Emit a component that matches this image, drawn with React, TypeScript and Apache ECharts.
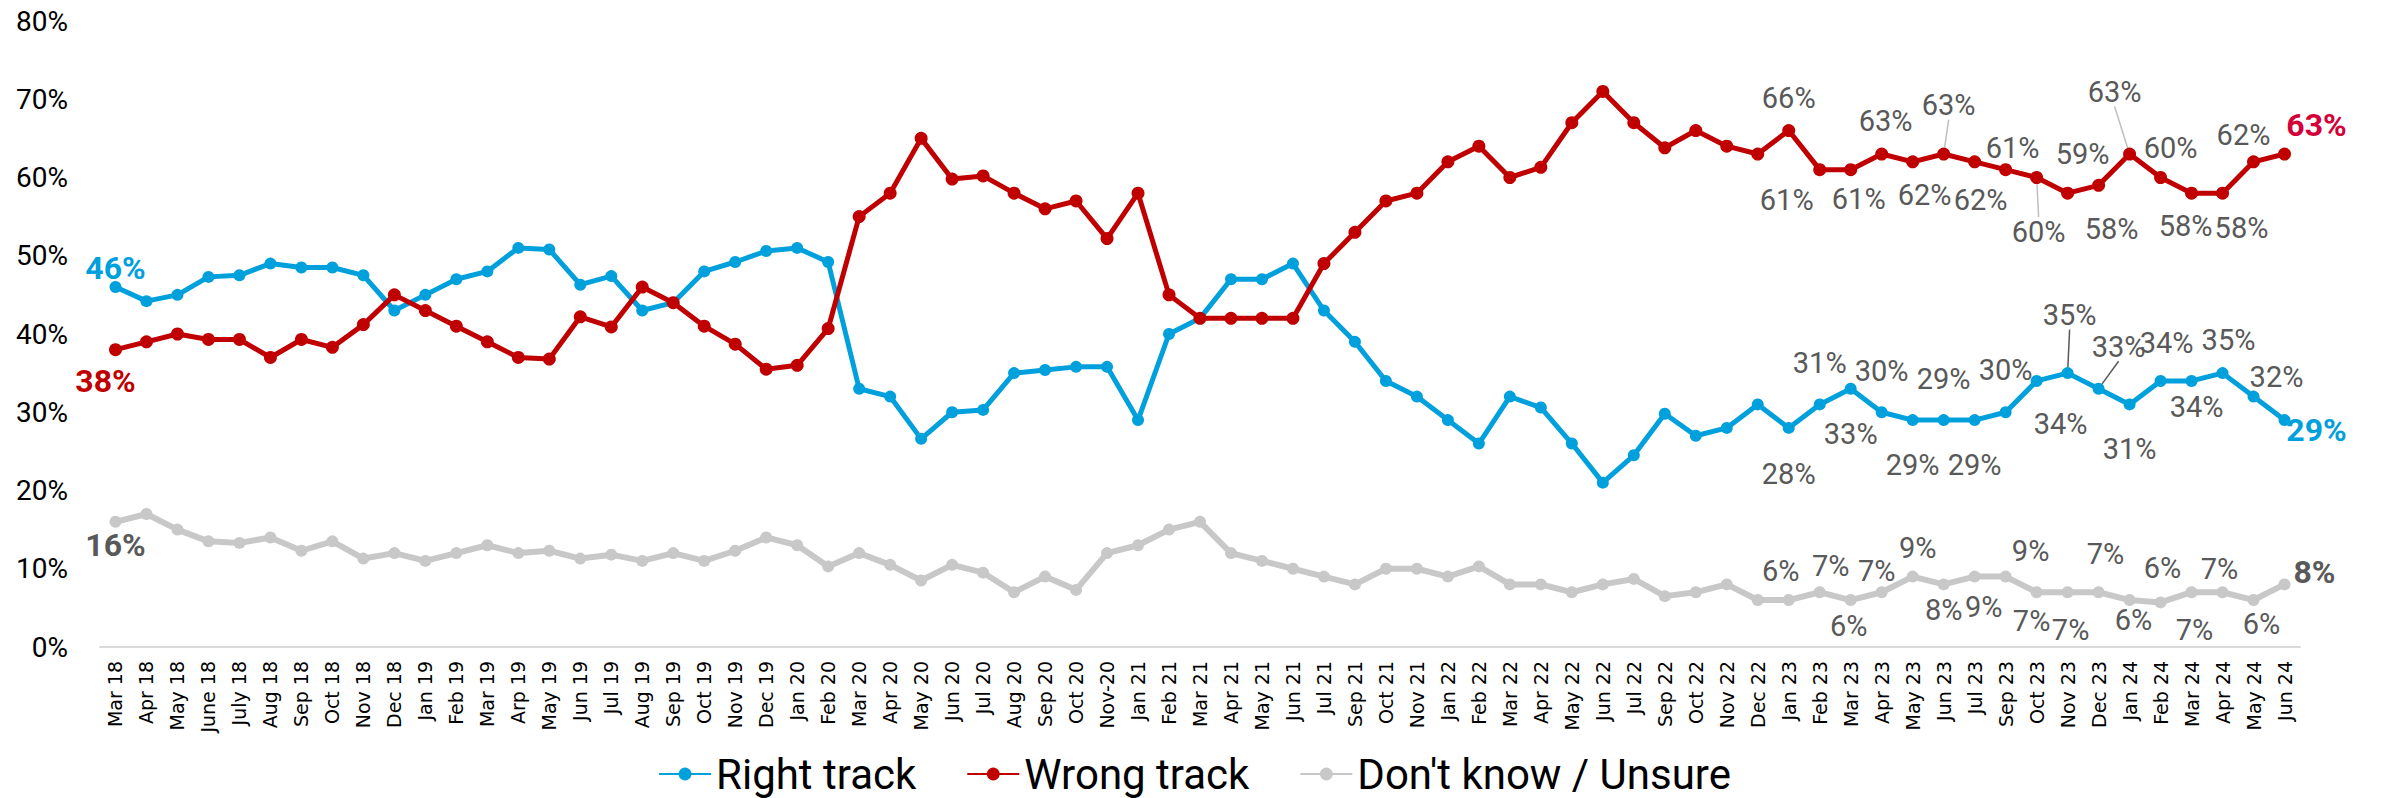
import React, { useEffect, useRef } from "react";
import * as echarts from "echarts";

const categories = [
  "Mar 18", "Apr 18", "May 18", "June 18", "July 18", "Aug 18", "Sep 18", "Oct 18", "Nov 18", "Dec 18",
  "Jan 19", "Feb 19", "Mar 19", "Arp 19", "May 19", "Jun 19", "Jul 19", "Aug 19", "Sep 19", "Oct 19",
  "Nov 19", "Dec 19", "Jan 20", "Feb 20", "Mar 20", "Apr 20", "May 20", "Jun 20", "Jul 20", "Aug 20",
  "Sep 20", "Oct 20", "Nov-20", "Jan 21", "Feb 21", "Mar 21", "Apr 21", "May 21", "Jun 21", "Jul 21",
  "Sep 21", "Oct 21", "Nov 21", "Jan 22", "Feb 22", "Mar 22", "Apr 22", "May 22", "Jun 22", "Jul 22",
  "Sep 22", "Oct 22", "Nov 22", "Dec 22", "Jan 23", "Feb 23", "Mar 23", "Apr 23", "May 23", "Jun 23",
  "Jul 23", "Sep 23", "Oct 23", "Nov 23", "Dec 23", "Jan 24", "Feb 24", "Mar 24", "Apr 24", "May 24",
  "Jun 24",
];

const rightTrack = [
  46, 44.2, 45, 47.3, 47.5, 49, 48.5, 48.5, 47.5, 43,
  45, 47, 48, 51, 50.8, 46.3, 47.4, 43, 44, 48,
  49.2, 50.6, 51, 49.2, 33, 32, 26.6, 30, 30.3, 35,
  35.4, 35.8, 35.8, 29, 40, 42, 47, 47, 49, 43,
  39, 34, 32, 29, 26, 32, 30.6, 26, 21, 24.5,
  29.8, 27, 28, 31, 28, 31, 33, 30, 29, 29,
  29, 30, 34, 35, 33, 31, 34, 34, 35, 32,
  29,
];

const wrongTrack = [
  38, 39, 40, 39.3, 39.3, 37, 39.3, 38.3, 41.2, 45,
  43, 41, 39, 37, 36.8, 42.2, 40.9, 46, 44, 41,
  38.7, 35.5, 36, 40.7, 55, 58, 65, 59.8, 60.2, 58,
  56, 57, 52.2, 58, 45, 42, 42, 42, 42, 49,
  53, 57, 58, 62, 64, 60, 61.3, 67, 71, 67,
  63.8, 66, 64, 63, 66, 61, 61, 63, 62, 63,
  62, 61, 60, 58, 59, 63, 60, 58, 58, 62,
  63,
];

const unsure = [
  16, 17, 15, 13.5, 13.3, 14, 12.3, 13.5, 11.3, 12,
  11, 12, 13, 12, 12.3, 11.3, 11.8, 11, 12, 11,
  12.3, 14, 13, 10.3, 12, 10.5, 8.5, 10.5, 9.5, 7,
  9, 7.3, 12, 13, 15, 16, 12, 11, 10, 9,
  8, 10, 10, 9, 10.3, 8, 8, 7, 8, 8.7,
  6.5, 7, 8, 6, 6, 7, 6, 7, 9, 8,
  9, 9, 7, 7, 7, 6, 5.7, 7, 7, 6,
  8,
];

const seriesNames = ["Right track", "Wrong track", "Don't know / Unsure"];

const BLUE = "#00A0DC";
const RED = "#C00000";
const RED_END = "#D4003A";
const GRAY = "#C8C8C8";
const LABEL = "#595959";
const FONT = "Roboto, 'Liberation Sans', sans-serif";

// label placement: [dx, dy] from point centre (style only), optional bold colour, optional leader line
type LP = { o: [number, number]; bold?: string; lead?: string };

const rightLabels: Record<number, LP> = {
  0: { o: [0, -19], bold: BLUE },
  54: { o: [0, 46] }, 55: { o: [0, -41] }, 56: { o: [0, 45] }, 57: { o: [0, -41] },
  58: { o: [0, 45] }, 59: { o: [0, -41] }, 60: { o: [0, 45] }, 61: { o: [0, -42] },
  62: { o: [24, 43] }, 63: { o: [2, -58], lead: "#595959" }, 64: { o: [20, -42], lead: "#595959" },
  65: { o: [0, 45] }, 66: { o: [6, -38] }, 67: { o: [5, 26] }, 68: { o: [6, -33] },
  69: { o: [23, -20] }, 70: { o: [32, 10], bold: BLUE },
};
const wrongLabels: Record<number, LP> = {
  0: { o: [-10, 31], bold: RED },
  54: { o: [0, -33] }, 55: { o: [-33, 30] }, 56: { o: [8, 29] }, 57: { o: [4, -33] },
  58: { o: [12, 33] }, 59: { o: [5, -49], lead: "#BFBFBF" }, 60: { o: [6, 38] }, 61: { o: [7, -22] },
  62: { o: [2, 54], lead: "#BFBFBF" }, 63: { o: [44, 36] }, 64: { o: [-16, -31] },
  65: { o: [-15, -62], lead: "#BFBFBF" }, 66: { o: [10, -30] }, 67: { o: [-6, 33] },
  68: { o: [19, 35] }, 69: { o: [-10, -27] }, 70: { o: [32, -29], bold: RED_END },
};
const unsureLabels: Record<number, LP> = {
  0: { o: [0, 23], bold: LABEL },
  54: { o: [-8, -29] }, 55: { o: [11, -26] }, 56: { o: [-2, 26] }, 57: { o: [-5, -21] },
  58: { o: [5, -29] }, 59: { o: [0, 26] }, 60: { o: [9, 30] }, 61: { o: [25, -26] },
  62: { o: [-5, 29] }, 63: { o: [3, 38] }, 64: { o: [7, -38] }, 65: { o: [4, 20] },
  66: { o: [2, -34] }, 67: { o: [3, 38] }, 68: { o: [-3, -23] }, 69: { o: [8, 24] },
  70: { o: [30, -12], bold: LABEL },
};

const allLabels = [rightLabels, wrongLabels, unsureLabels];

function buildData(values: number[], labels: Record<number, LP>) {
  return values.map((v, i) => {
    const lp = labels[i];
    if (!lp) return { value: v, label: { show: false } };
    return {
      value: v,
      label: {
        show: true,
        position: "inside",
        formatter: (p: any) => Math.round(p.value) + "%",
        color: lp.bold ? lp.bold : LABEL,
        fontWeight: lp.bold ? "bold" : "normal",
        fontSize: lp.bold ? 32 : 29,
        fontFamily: FONT,
      },
      labelLine: lp.lead
        ? { show: true, length2: 0, lineStyle: { color: lp.lead, width: 1.5 } }
        : { show: false },
    };
  });
}

export default function App() {
  const ref = useRef<HTMLDivElement>(null);
  useEffect(() => {
    if (!ref.current) return;
    const chart = echarts.init(ref.current, undefined, { renderer: "svg" });
    const mk = (
      idx: number,
      values: number[],
      color: string,
      width: number,
      size: number,
      z: number
    ) => ({
      name: seriesNames[idx],
      type: "line",
      data: buildData(values, allLabels[idx]),
      symbol: "circle",
      symbolSize: size,
      showAllSymbol: true,
      z,
      lineStyle: { color, width },
      itemStyle: { color },
      emphasis: { disabled: true },
      labelLine: { show: false },
      labelLayout: (params: any) => {
        const lp = allLabels[idx][params.dataIndex];
        if (!lp) return {};
        return { dx: lp.o[0], dy: lp.o[1] };
      },
    });
    chart.setOption({
      animation: false,
      backgroundColor: "#ffffff",
      grid: { left: 100, right: 89, top: 21, bottom: 151, containLabel: false },
      xAxis: {
        type: "category",
        data: categories,
        boundaryGap: true,
        axisLine: { show: true, lineStyle: { color: "#D9D9D9", width: 2 } },
        axisTick: { show: false },
        axisLabel: {
          interval: 0,
          rotate: 90,
          margin: 14,
          fontSize: 19,
          color: "#000000",
          fontFamily: "'DejaVu Sans', sans-serif",
        },
        splitLine: { show: false },
      },
      yAxis: {
        type: "value",
        min: 0,
        max: 80,
        interval: 10,
        axisLine: { show: false },
        axisTick: { show: false },
        splitLine: { show: false },
        axisLabel: {
          formatter: "{value}%",
          fontSize: 28,
          color: "#000000",
          margin: 32,
          fontFamily: FONT,
        },
      },
      legend: {
        data: seriesNames,
        top: 748,
        left: "center",
        itemWidth: 52,
        itemHeight: 16,
        itemGap: 50,
        textStyle: { fontSize: 42, lineHeight: 42, color: "#000000", fontFamily: FONT },
      },
      series: [
        mk(0, rightTrack, BLUE, 5, 12, 3),
        mk(1, wrongTrack, RED, 5, 13, 4),
        mk(2, unsure, GRAY, 6, 12, 2),
      ],
    });
    return () => chart.dispose();
  }, []);
  return (
    <div
      ref={ref}
      style={{ position: "fixed", left: 0, top: 0, width: 2389, height: 798, background: "#fff" }}
    />
  );
}
